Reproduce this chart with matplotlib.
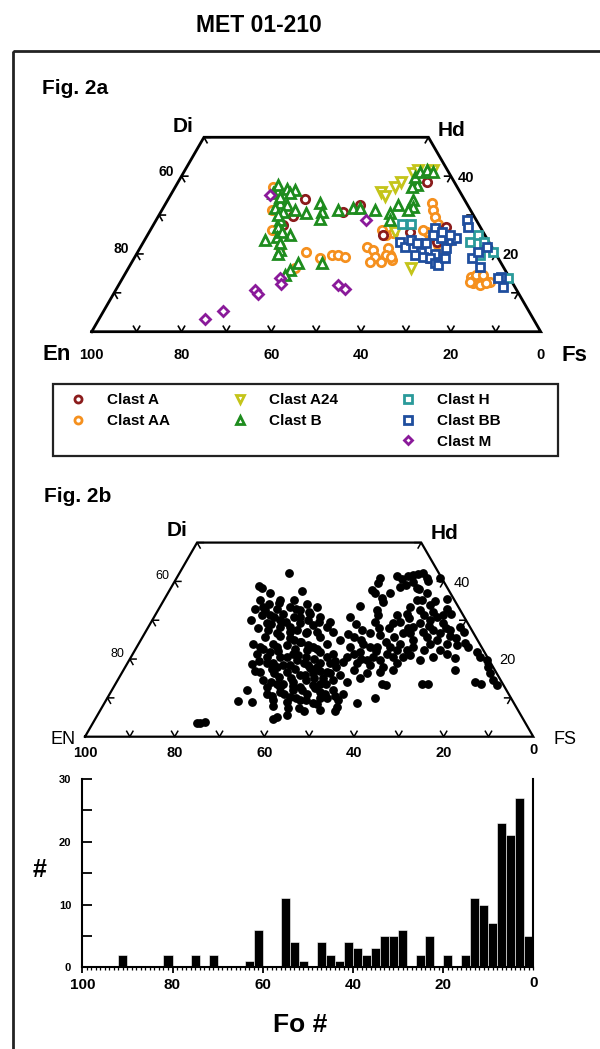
import numpy as np
import matplotlib
matplotlib.use("Agg")
import matplotlib.pyplot as plt
from matplotlib.patches import Rectangle
from matplotlib.lines import Line2D
from matplotlib.font_manager import FontProperties

plt.rcParams['font.family'] = ['Liberation Sans', 'DejaVu Sans']

# ---------------- data: Fig. 2a (Fs, Wo) per clast ----------------
clast_a = [(30.5, 34.0), (30.0, 29.7), (29.0, 27.4), (40.6, 30.8), (43.4, 32.6),
           (52.5, 24.9), (55.4, 38.4), (58.0, 25.7), (65.5, 18.9), (65.3, 23.1),
           (65.5, 27.0)]
clast_aa = [(21.8, 37.3), (24.4, 31.3), (27.0, 26.1), (31.0, 21.9), (37.5, 20.6),
            (41.4, 18.9), (43.6, 19.7), (45.1, 19.7), (46.8, 19.3), (50.3, 21.9),
            (52.2, 21.0), (53.4, 19.3), (52.9, 18.0), (55.5, 18.0), (56.6, 19.7),
            (57.6, 18.4), (51.5, 26.1), (54.5, 25.3), (37.2, 16.3), (59.2, 33.0),
            (60.4, 31.3), (61.6, 29.6), (63.3, 27.8), (64.5, 26.1), (66.1, 24.4),
            (67.8, 23.1), (63.1, 24.4), (61.8, 25.7), (60.8, 26.1), (66.0, 22.3),
            (67.6, 21.4), (53.2, 24.9), (55.3, 21.4), (55.8, 19.7), (57.1, 19.3),
            (77.5, 14.1), (78.6, 13.3), (79.0, 14.1), (79.9, 13.7), (80.8, 13.3),
            (82.2, 12.9), (78.7, 12.4), (80.4, 12.0), (81.7, 12.4), (78.4, 14.6),
            (79.9, 14.6), (77.7, 12.9)]
clast_a24 = [(46.5, 36.0), (47.8, 34.9), (48.9, 37.3), (49.5, 38.6), (51.3, 40.7),
             (55.2, 41.7), (54.7, 25.7), (63.0, 16.3), (51.9, 41.6)]
clast_b = [(22.7, 37.7), (25.0, 36.8), (27.1, 36.4), (26.3, 35.6), (22.6, 35.6),
           (25.4, 33.0), (27.1, 32.6), (25.0, 31.7), (27.3, 30.8), (29.7, 31.3),
           (32.6, 30.4), (27.6, 28.7), (28.0, 27.0), (29.0, 24.4), (31.7, 24.9),
           (26.8, 23.6), (31.4, 21.0), (34.3, 33.0), (35.8, 30.8), (36.3, 29.1),
           (39.3, 31.3), (42.4, 31.7), (43.9, 31.7), (47.5, 31.3), (51.2, 30.4),
           (52.1, 28.7), (51.9, 32.6), (54.7, 33.8), (55.6, 32.1), (54.9, 31.3),
           (53.5, 37.7), (52.6, 37.3), (52.1, 39.8), (52.6, 41.1), (53.8, 41.6),
           (55.5, 41.1), (42.4, 17.6), (37.2, 17.6), (36.2, 15.9), (24.6, 34.7),
           (26.5, 30.0), (29.5, 25.7), (30.6, 22.7), (31.5, 20.1), (35.7, 14.6)]
clast_h = [(55.1, 27.8), (57.3, 27.8), (72.7, 23.1), (73.6, 24.9), (75.9, 23.1),
           (79.1, 20.6), (76.6, 19.7), (85.9, 13.7), (66.3, 24.0)]
clast_bb = [(57.1, 23.1), (58.8, 21.9), (59.4, 23.6), (61.0, 22.7), (63.1, 20.6),
            (62.1, 19.7), (64.2, 19.3), (66.4, 20.1), (65.9, 18.9), (67.6, 17.6),
            (68.6, 17.1), (69.2, 18.9), (68.3, 21.4), (68.3, 23.6), (69.2, 24.0),
            (65.9, 24.0), (63.1, 26.6), (63.6, 24.9), (65.1, 25.7), (67.3, 24.9),
            (69.2, 28.7), (70.3, 27.0), (75.2, 18.9), (78.1, 16.7), (75.8, 20.6),
            (77.0, 21.9), (84.2, 14.1), (85.8, 11.6), (83.7, 13.7), (63.2, 22.7)]
clast_m = [(22.1, 35.1), (35.0, 13.7), (36.1, 12.3), (31.0, 10.7), (32.2, 9.7),
           (48.9, 12.0), (50.8, 11.1), (46.8, 28.7), (23.6, 3.2), (26.5, 5.3)]

# ---------------- data: Fig. 2b (Fs, Wo) all pyroxenes ----------------
all_px = [
    (24.3, 42.2), (19.5, 38.8), (20.3, 38.4), (45.3, 41.0), (45.6, 39.6), (48.9, 41.3),
    (50.3, 40.7), (51.5, 41.3), (52.4, 41.6), (53.3, 42.0), (54.4, 42.2), (55.7, 41.0),
    (58.7, 41.0), (53.3, 39.9), (52.2, 39.0), (54.9, 38.2), (22.9, 36.9), (29.5, 37.6),
    (45.0, 37.9), (46.3, 36.9), (21.4, 35.2), (23.8, 34.3), (25.9, 35.2), (28.9, 35.3),
    (32.3, 34.3), (35.0, 33.4), (23.8, 32.6), (26.3, 33.0), (29.0, 33.4), (31.7, 32.6),
    (44.5, 33.6), (48.3, 35.8), (49.1, 34.7), (60.1, 33.9), (58.4, 32.6), (64.2, 33.0),
    (55.8, 33.4), (56.4, 35.2),
    (23.8, 31.3), (26.6, 30.9), (28.4, 31.7), (31.1, 30.9), (34.4, 31.7), (37.0, 30.9),
    (39.8, 29.6), (25.9, 29.2), (29.4, 28.3), (33.4, 29.2), (36.6, 28.7), (39.8, 28.3),
    (43.7, 30.9), (48.8, 32.6), (49.8, 31.3), (55.9, 31.7), (59.9, 31.3), (62.0, 30.0),
    (63.0, 30.9), (65.3, 29.2), (60.1, 29.2), (54.2, 29.2), (53.8, 27.9), (59.1, 28.3),
    (69.5, 28.3), (67.7, 27.4),
    (27.3, 25.7), (29.5, 26.6), (32.2, 27.0), (36.1, 26.6), (39.6, 25.7), (41.9, 27.0),
    (30.0, 24.0), (33.2, 23.6), (35.8, 24.4), (39.3, 23.2), (41.9, 24.0), (44.5, 24.9),
    (47.1, 25.7), (50.3, 26.6), (52.7, 26.2), (56.0, 25.7), (57.7, 26.6), (60.8, 24.9),
    (63.4, 25.7), (66.0, 24.9), (68.7, 24.0), (71.1, 23.6), (72.7, 24.2), (76.5, 21.9),
    (65.9, 26.6),
    (27.6, 21.4), (30.4, 21.9), (33.2, 20.6), (35.8, 21.4), (39.1, 20.6), (41.5, 21.9),
    (44.7, 21.4), (48.1, 20.6), (50.4, 21.9), (54.0, 20.6), (56.6, 21.4), (58.4, 22.3),
    (62.0, 21.0), (64.9, 19.7), (67.4, 20.6), (70.0, 21.4), (72.4, 20.2), (77.8, 20.6),
    (79.8, 19.7), (27.9, 18.7), (31.1, 18.9), (33.8, 18.0), (36.5, 18.4), (39.3, 18.9),
    (42.7, 18.0), (45.2, 18.9), (48.0, 19.3), (51.2, 18.9), (54.4, 18.4), (57.5, 18.0),
    (60.1, 18.9), (81.0, 18.0),
    (30.7, 16.7), (33.9, 16.3), (36.7, 16.7), (40.1, 15.9), (42.8, 16.3), (45.6, 16.7),
    (49.0, 15.9), (51.3, 17.2), (54.7, 16.3), (57.5, 16.7), (60.2, 17.2), (73.9, 17.2),
    (82.2, 16.3), (32.5, 14.6), (36.0, 13.7), (39.4, 14.2), (42.1, 14.6), (45.6, 13.7),
    (48.1, 14.6), (51.3, 14.2), (53.8, 15.0), (59.4, 13.6), (60.5, 13.3), (68.3, 13.7),
    (69.6, 13.7), (79.9, 14.2), (81.5, 13.7), (83.8, 14.6), (85.2, 13.3),
    (30.1, 12.0), (35.0, 11.1), (37.7, 11.6), (40.5, 12.0), (43.9, 11.1), (46.6, 11.6),
    (49.4, 12.0), (52.1, 11.1), (37.3, 9.4), (40.5, 9.0), (43.3, 9.4), (46.6, 8.6),
    (49.0, 9.9), (51.8, 9.4), (32.7, 9.0), (29.6, 9.2), (59.8, 9.9), (56.3, 8.6),
    (52.3, 7.7), (52.5, 6.7), (47.5, 8.4), (45.4, 6.7), (42.2, 5.6), (40.3, 5.1),
    (39.6, 4.6), (23.9, 3.6), (24.9, 3.8), (23.2, 3.4),
    (23.1, 33.4), (25.7, 31.3), (28.5, 30.0), (31.6, 28.3), (32.6, 30.9), (34.8, 30.0),
    (38.2, 27.0), (34.1, 24.9), (38.3, 22.3), (34.7, 20.6), (30.2, 20.6), (31.2, 23.2),
    (27.4, 23.2), (37.4, 19.7), (41.4, 17.6), (43.6, 20.6), (47.1, 18.0), (45.7, 15.0),
    (41.6, 12.9), (40.6, 10.3), (37.1, 12.9), (34.1, 12.9), (44.3, 13.3),
    (49.2, 21.4), (53.0, 19.7), (56.0, 19.7), (58.5, 20.6), (60.6, 22.3), (58.3, 24.0),
    (56.4, 23.2), (53.5, 23.2), (50.1, 24.0), (47.5, 23.2), (60.7, 20.6), (61.6, 23.2),
    (64.4, 22.3), (65.0, 24.0), (68.1, 22.3), (64.0, 27.4), (62.0, 27.0), (59.2, 26.6),
    (55.5, 29.6), (53.9, 31.3), (57.8, 36.9), (57.5, 35.2), (61.6, 32.2), (64.3, 31.3),
    (22.0, 30.0), (24.5, 28.0), (27.0, 27.5), (30.5, 26.0), (33.0, 25.5), (36.0, 24.5),
    (38.0, 23.5), (40.5, 22.5), (25.5, 24.0), (28.5, 22.5), (32.0, 22.0), (35.5, 22.5),
    (37.0, 21.0), (41.0, 20.0), (43.0, 19.0), (29.0, 19.5), (32.5, 19.0), (35.0, 18.5),
    (38.0, 17.5), (40.5, 18.5), (44.0, 17.0), (46.5, 16.5), (29.5, 17.0), (33.0, 17.5),
    (35.5, 15.5), (38.5, 15.0), (41.0, 16.0), (43.5, 15.0), (47.0, 13.5), (34.5, 14.0),
    (37.5, 13.5), (40.0, 13.0), (42.5, 12.0), (45.0, 12.5), (48.0, 11.0), (36.5, 10.5),
    (39.0, 11.0), (42.0, 10.0), (44.5, 9.5), (47.5, 10.0), (50.5, 10.5), (38.0, 8.0),
    (41.5, 7.5), (44.0, 7.5), (49.0, 7.0), (27.0, 29.0), (30.0, 29.5), (33.5, 27.5),
    (36.0, 27.0), (21.5, 33.0), (26.0, 34.5), (30.5, 33.0), (34.0, 32.0), (37.5, 29.5),
    (45.5, 26.5), (48.0, 27.5), (51.5, 28.0), (50.0, 29.5), (46.0, 29.0), (52.0, 23.0),
    (55.0, 24.5), (49.0, 25.0), (62.5, 28.5), (66.5, 28.0), (70.0, 25.5), (74.0, 23.0),
    (57.0, 30.5), (60.5, 35.0), (51.0, 38.5), (49.5, 37.0), (56.5, 40.0), (55.5, 38.0),
    (63.0, 35.5), (66.0, 31.5), (68.5, 26.0), (71.0, 27.0), (58.0, 28.0), (54.0, 22.0),
    (51.5, 20.0), (46.0, 19.5),
]

# ---------------- data: Fig. 2b histogram (Fo#) ----------------
fo_bins = [91, 81, 75, 71, 63, 61, 55, 53, 51, 47, 45, 43, 41, 39, 37, 35, 33, 31,
           29, 25, 23, 19, 15, 13, 11, 9, 7, 5, 3, 1]
fo_counts = [2, 2, 2, 2, 1, 6, 11, 4, 1, 4, 2, 1, 4, 3, 2, 3, 5, 5,
             6, 2, 5, 2, 2, 11, 10, 7, 23, 21, 27, 5]

base_labels = ['100', '80', '60', '40', '20', '0']
left_labels = ['80', '60']
right_labels = ['20', '40']

# ---------------- helpers ----------------
W, H = 600, 1049
fig = plt.figure(figsize=(6, 10.49), dpi=100)
SQ = np.sqrt(3) / 2


def tern(pts):
    a = np.asarray(pts, float)
    fs, wo = a[:, 0], a[:, 1]
    return fs + wo / 2, wo * SQ


def px_axes(left, top, width, height, z=1):
    ax = fig.add_axes([left / W, 1 - (top + height) / H, width / W, height / H])
    ax.set_zorder(z)
    return ax


def draw_quad(ax, lw, tlw, L=1.4):
    corners = [(0, 0), (100, 0), (50, 50), (0, 50), (0, 0)]
    x, y = tern(corners)
    ax.plot(x, y, color='black', lw=lw, solid_joinstyle='miter', zorder=3)
    c60, s60 = 0.5, SQ
    for v in range(10, 100, 10):
        ax.plot([v - L * c60, v, v + L * c60], [L * s60, 0, L * s60],
                color='black', lw=tlw, zorder=3)
    for w in (10, 20, 30, 40, 50):
        x0, y0 = w / 2, w * SQ
        ax.plot([x0 + L, x0, x0 + L * c60], [y0, y0, y0 - L * s60],
                color='black', lw=tlw, zorder=3)
        x1 = 100 - w / 2
        ax.plot([x1 - L, x1, x1 - L * c60], [y0, y0, y0 - L * s60],
                color='black', lw=tlw, zorder=3)
    ax.set_xlim(-5, 105)
    ax.set_ylim(-8, 48)
    ax.axis('off')


# ---------------- overlay (frame, titles, legend box) ----------------
ax0 = fig.add_axes([0, 0, 1, 1])
ax0.set_zorder(0)
ax0.set_xlim(0, W)
ax0.set_ylim(H, 0)
ax0.axis('off')
ax0.add_patch(Rectangle((13, 51), 620, 1020, fill=False, lw=2.0, edgecolor='#222222'))
ax0.add_patch(Rectangle((53, 384), 505, 72, fill=False, lw=1.6, edgecolor='#222222'))
ax0.text(259, 26, 'MET 01-210', ha='center', va='center', fontsize=16.5, fontweight='bold')
ax0.text(42, 88, 'Fig. 2a', ha='left', va='center', fontsize=15, fontweight='bold')
ax0.text(44, 497, 'Fig. 2b', ha='left', va='center', fontsize=15, fontweight='bold')

# ---------------- Fig. 2a ----------------
s_a = 4.49
axa = px_axes(91.7 - 5 * s_a, 331.7 - 48 * s_a, 110 * s_a, 56 * s_a, z=2)
draw_quad(axa, lw=2.0, tlw=1.2)

styles = [
    (clast_aa, 'Clast AA', 'o', '#F5901E', 6.0),
    (clast_a, 'Clast A', 'o', '#8B1C1C', 6.0),
    (clast_a24, 'Clast A24', 'v', '#C4C41A', 7.0),
    (clast_b, 'Clast B', '^', '#1E8C1E', 7.0),
    (clast_h, 'Clast H', 's', '#2A9A9A', 6.0),
    (clast_bb, 'Clast BB', 's', '#1F4E9E', 6.0),
    (clast_m, 'Clast M', 'D', '#8A1A9A', 5.2),
]
handles = {}
for pts, lab, mk, col, ms in styles:
    x, y = tern(pts)
    ln, = axa.plot(x, y, linestyle='none', marker=mk, ms=ms, mfc='white',
                   mec=col, mew=2.0, label=lab, zorder=4)
    handles[lab] = ln

tx = np.array([0, 20, 40, 60, 80, 100], float)
for xv, lab in zip(tx, base_labels):
    axa.text(xv, -5.2, lab, ha='center', va='center', fontsize=10.5, fontweight='bold')
for w, lab in zip((20, 40), left_labels):
    axa.text(w / 2 - 1.6, w * SQ + 1.0, lab, ha='right', va='center', fontsize=10, fontweight='bold')
for w, lab in zip((20, 40), right_labels):
    axa.text(100 - w / 2 + 1.5, w * SQ - 0.3, lab, ha='left', va='center', fontsize=10.5, fontweight='bold')
axa.text(-7.7, -5.0, 'En', ha='center', va='center', fontsize=16, fontweight='bold')
axa.text(107.6, -5.4, 'Fs', ha='center', va='center', fontsize=16, fontweight='bold')
axa.text(20.3, 45.6, 'Di', ha='center', va='center', fontsize=15, fontweight='bold')
axa.text(80.2, 44.9, 'Hd', ha='center', va='center', fontsize=15, fontweight='bold')

# legend
blank = Line2D([], [], linestyle='none', marker=None)
order = ['Clast A', 'Clast AA', None, 'Clast A24', 'Clast B', None,
         'Clast H', 'Clast BB', 'Clast M']
lh = [handles[o] if o else blank for o in order]
ll = [o if o else '' for o in order]
fig.legend(lh, ll, ncol=3, frameon=False, loc='upper left',
           bbox_to_anchor=(70 / W, 1 - 393 / H),
           prop=FontProperties(family=['Liberation Sans', 'DejaVu Sans'], weight='bold', size=11),
           handlelength=1.0, handletextpad=1.4, columnspacing=4.1,
           labelspacing=0.45, borderpad=0, borderaxespad=0, markerscale=0.85)

# ---------------- Fig. 2b ternary ----------------
s_b = 4.483
axb = px_axes(85 - 5 * s_b, 736.7 - 48 * s_b, 110 * s_b, 56 * s_b, z=2)
draw_quad(axb, lw=1.6, tlw=1.1)
x, y = tern(all_px)
axb.plot(x, y, linestyle='none', marker='o', ms=5.3, mfc='black', mec='black', zorder=4)
for xv, lab in zip(tx, base_labels):
    axb.text(xv, -3.0 if lab == '0' else -3.6, lab, ha='center', va='center',
             fontsize=10.5, fontweight='bold')
for w, lab in zip((20, 40), left_labels):
    axb.text(w / 2 - 1.2, w * SQ + 1.1, lab, ha='right', va='center', fontsize=9)
for w, lab in zip((20, 40), right_labels):
    axb.text(100 - w / 2 + 2.3, w * SQ - 0.3, lab, ha='left', va='center', fontsize=10.5)
axb.text(-4.9, -0.7, 'EN', ha='center', va='center', fontsize=13)
axb.text(107.1, -0.7, 'FS', ha='center', va='center', fontsize=13)
axb.text(20.5, 46.1, 'Di', ha='center', va='center', fontsize=15, fontweight='bold')
axb.text(80.3, 45.4, 'Hd', ha='center', va='center', fontsize=15, fontweight='bold')

# ---------------- histogram ----------------
axh = px_axes(82.3, 779, 451, 188.3, z=2)
axh.bar(fo_bins, fo_counts, width=2, color='black', edgecolor='white', linewidth=0.4)
axh.set_xlim(100, 0)
axh.set_ylim(0, 30)
axh.spines['top'].set_visible(False)
for sp in ('left', 'bottom', 'right'):
    axh.spines[sp].set_linewidth(1.5)
axh.yaxis.set_ticks_position('left')
axh.set_xticks([100, 80, 60, 40, 20])
axh.set_xticklabels(['100', '80', '60', '40', '20'])
axh.set_xticks(np.arange(0, 101, 1), minor=True)
axh.set_yticks([0, 10, 20, 30])
axh.set_yticks([5, 15, 25], minor=True)
axh.tick_params(axis='y', which='both', direction='in', length=7, width=1.3,
                labelsize=8, pad=8)
axh.tick_params(axis='x', which='major', direction='out', length=4, width=1.3,
                labelsize=11, pad=4)
axh.tick_params(axis='x', which='minor', direction='out', length=2, width=0.9)
for t in axh.get_xticklabels() + axh.get_yticklabels():
    t.set_fontweight('bold')
axh.text(0, -2.5, '0', ha='center', va='center', fontsize=11, fontweight='bold', clip_on=False)
axh.set_xlabel('Fo #', fontsize=19, fontweight='bold', va='center')
axh.xaxis.set_label_coords(0.483, -0.307)
axh.set_ylabel('#', fontsize=18, fontweight='bold', rotation=0, va='center', ha='center')
axh.yaxis.set_label_coords(-0.094, 0.517)

fig.savefig('out.png', dpi=100)
